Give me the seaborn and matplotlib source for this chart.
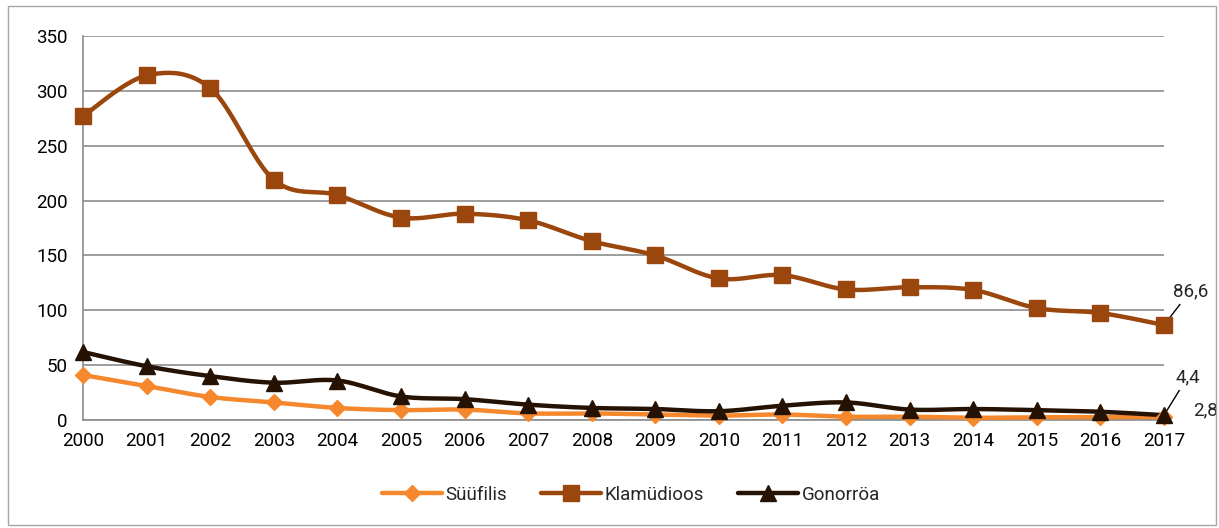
import numpy as np
import pandas as pd
import matplotlib
matplotlib.use('Agg')
import matplotlib.pyplot as plt
from matplotlib.lines import Line2D
from matplotlib.patches import Rectangle
import seaborn as sns

years = list(range(2000, 2018))
syyfilis = [41, 31, 21, 16, 11, 9, 9.5, 6, 6, 5, 4, 5, 3, 3, 2, 2.5, 2.5, 2.8]
klamydioos = [277, 314, 302.5, 219, 205, 184.5, 188, 182, 163, 150, 129, 132, 119, 121, 118.5, 102, 97.5, 86.6]
gonorroa = [62, 49, 40, 34, 36, 21.5, 19, 14, 11, 10, 8, 13, 16, 9.5, 10, 9, 7.5, 4.4]
series_names = ['Süüfilis', 'Klamüdioos', 'Gonorröa']
series_vals = [syyfilis, klamydioos, gonorroa]
colors = ['#F5872C', '#9A460C', '#261203']
markers = ['D', 's', '^']
msizes = [8, 11, 11]

sns.set_theme(style='white')
plt.rcParams['font.family'] = ['Roboto', 'DejaVu Sans']

# axes size in pixels, used to smooth the lines in screen space like Excel does
ax_w, ax_h = 1164 - 83, 420 - 36
sx = ax_w / (years[-1] - years[0])
sy = ax_h / 350


def smooth(x, y, n=24):
    # Catmull-Rom curve through the points (screen scaled)
    P = np.column_stack([np.array(x) * sx, np.array(y) * sy]).astype(float)
    P = np.vstack([P[0], P, P[-1]])
    out = []
    t = np.linspace(0, 1, n)[:, None]
    for i in range(1, len(P) - 2):
        p0, p1, p2, p3 = P[i - 1], P[i], P[i + 1], P[i + 2]
        seg = 0.5 * ((2 * p1) + (-p0 + p2) * t + (2 * p0 - 5 * p1 + 4 * p2 - p3) * t ** 2
                     + (-p0 + 3 * p1 - 3 * p2 + p3) * t ** 3)
        out.append(seg if i == 1 else seg[1:])
    s = np.vstack(out)
    return s[:, 0] / sx, s[:, 1] / sy


fig = plt.figure(figsize=(12.19, 5.28), dpi=100)
ax = fig.add_axes([83 / 1219, 1 - 420 / 528, ax_w / 1219, ax_h / 528])
fig.patches.append(Rectangle((8 / 1219, 3 / 528), 1208 / 1219, 519 / 528, transform=fig.transFigure,
                             fill=False, edgecolor='#A6A6A6', linewidth=1))

handles = []
for name, vals, c, m, ms in zip(series_names, series_vals, colors, markers, msizes):
    xs, ys = smooth(years, vals)
    sns.lineplot(x=xs, y=ys, ax=ax, color=c, linewidth=3.2, sort=False, clip_on=False, zorder=3)
    ax.plot(years, vals, linestyle='none', marker=m, color=c, markersize=ms, clip_on=False, zorder=4)
    handles.append(Line2D([], [], color=c, linewidth=3.2, marker=m, markersize=ms, label=name,
                          solid_capstyle='round'))

ax.set_xlim(2000, 2017)
ax.set_ylim(0, 350)
ax.set_xticks(years)
ax.set_yticks(range(0, 351, 50))
ax.yaxis.grid(True, color='#8C8C8C', linewidth=1.2)
ax.set_axisbelow(True)
for s in ['top', 'right']:
    ax.spines[s].set_visible(False)
for s in ['left', 'bottom']:
    ax.spines[s].set_color('#8C8C8C')
    ax.spines[s].set_linewidth(1.2)
ax.tick_params(axis='both', labelsize=13.5, colors='#8C8C8C', labelcolor='black',
               length=5, width=1.2, direction='out')
ax.tick_params(axis='x', pad=4)
ax.tick_params(axis='y', pad=6)
ax.set_xlabel('')
ax.set_ylabel('')

# end labels
lead = dict(arrowstyle='-', color='black', lw=1, shrinkA=1, shrinkB=2)
ax.annotate(f'{klamydioos[-1]}'.replace('.', ','), xy=(years[-1], klamydioos[-1]), xytext=(19, 18),
            textcoords='offset points', fontsize=13.5, ha='center', va='bottom',
            arrowprops=lead, annotation_clip=False)
ax.annotate(f'{gonorroa[-1]}'.replace('.', ','), xy=(years[-1], gonorroa[-1]), xytext=(17, 21),
            textcoords='offset points', fontsize=13.5, ha='center', va='bottom',
            arrowprops=lead, annotation_clip=False)
ax.annotate(f'{syyfilis[-1]}'.replace('.', ','), xy=(years[-1], syyfilis[-1]), xytext=(30, 5),
            textcoords='offset points', fontsize=13.5, ha='center', va='center', annotation_clip=False)

fig.legend(handles=handles, loc='center', bbox_to_anchor=(631 / 1219, 1 - 495 / 528), ncol=3,
           frameon=False, fontsize=13.5, handlelength=3.2, handletextpad=0.2, columnspacing=1.8)

fig.savefig('out.png', dpi=100)
